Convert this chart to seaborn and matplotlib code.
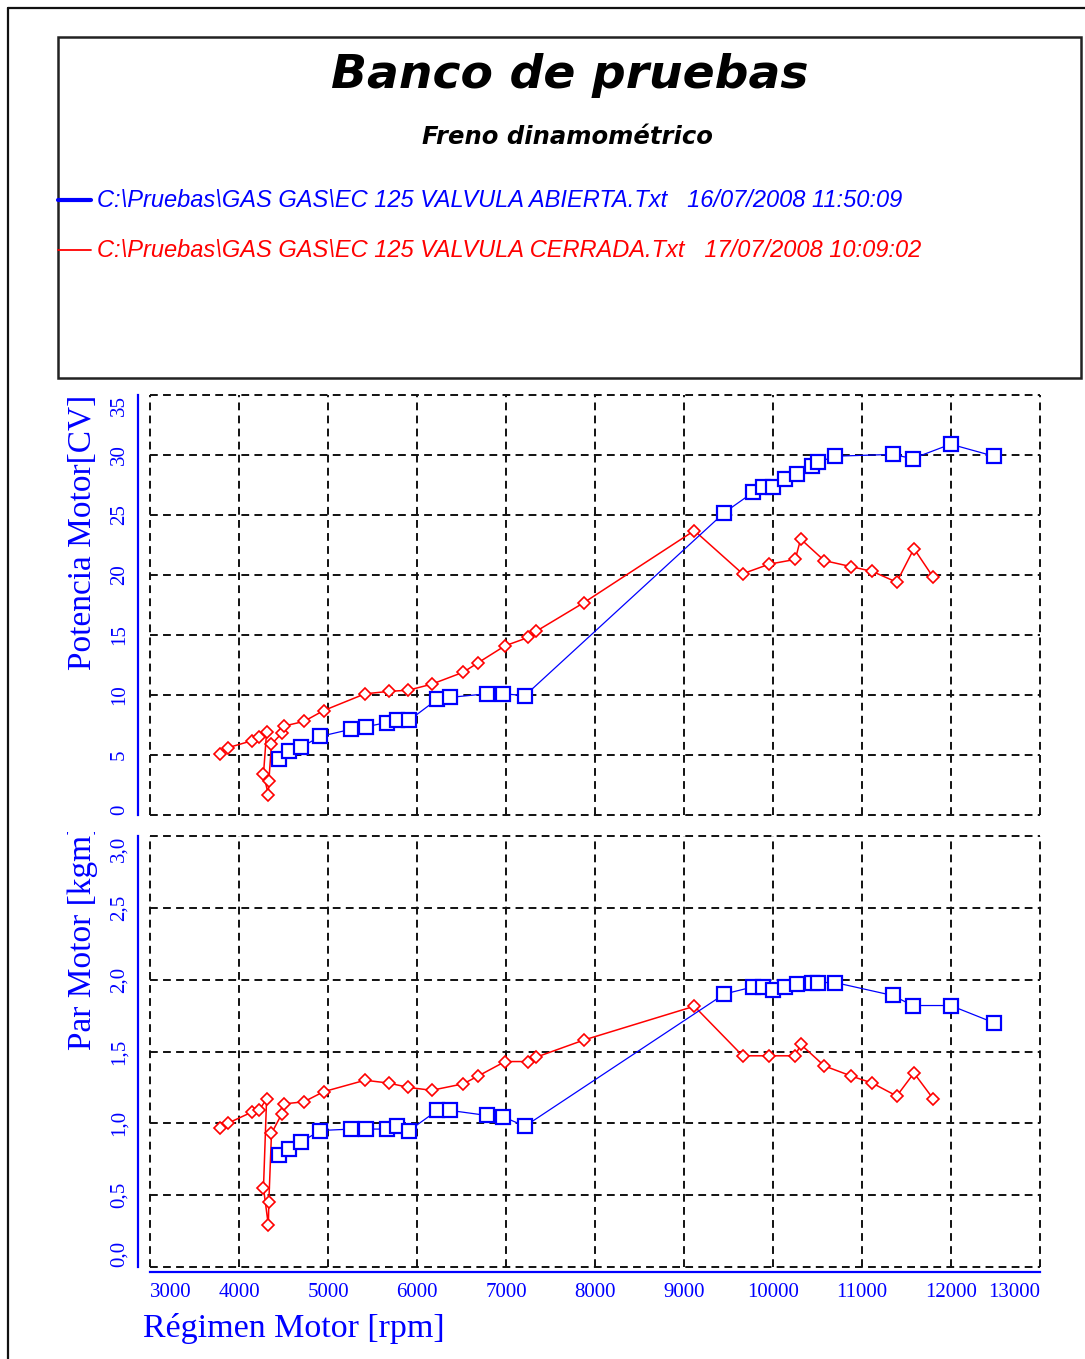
import matplotlib
matplotlib.use("Agg")
import matplotlib.pyplot as plt
import seaborn as sns
from matplotlib.lines import Line2D
from matplotlib.patches import Rectangle
from matplotlib.transforms import Bbox

# ---- test data: open throttle valve (abierta) ----
rpm_abierta = [4449, 4565, 4697, 4914, 5262, 5423, 5659, 5771, 5913, 6228, 6371,
               6782, 6969, 7213, 9453, 9778, 9890, 10003, 10135, 10266, 10434,
               10509, 10697, 11345, 11569, 11996, 12483]
potencia_abierta = [4.7, 5.3, 5.65, 6.55, 7.15, 7.35, 7.7, 7.9, 7.9, 9.65, 9.8,
                    10.1, 10.1, 9.95, 25.2, 26.9, 27.3, 27.3, 28.0, 28.4, 29.1,
                    29.4, 29.9, 30.05, 29.7, 30.9, 29.9]
par_abierta = [0.78, 0.82, 0.87, 0.95, 0.96, 0.96, 0.96, 0.98, 0.95, 1.09, 1.09,
               1.055, 1.045, 0.98, 1.90, 1.95, 1.95, 1.93, 1.95, 1.97, 1.98,
               1.98, 1.98, 1.89, 1.82, 1.82, 1.70]

# ---- test data: closed throttle valve (cerrada) ----
rpm_cerrada = [3787, 3873, 4150, 4230, 4310, 4275, 4330, 4335, 4365, 4480, 4500,
               4730, 4950, 5416, 5685, 5902, 6165, 6520, 6689, 6989, 7251, 7337,
               7876, 9116, 9659, 9955, 10250, 10311, 10576, 10876, 11116, 11390,
               11584, 11801]
potencia_cerrada = [5.1, 5.6, 6.2, 6.5, 6.9, 3.4, 1.7, 2.8, 5.9, 6.8, 7.4,
                    7.8, 8.7, 10.1, 10.3, 10.4, 10.9, 11.9, 12.7, 14.1, 14.8, 15.3,
                    17.7, 23.7, 20.1, 20.9, 21.3, 23.0, 21.2, 20.7, 20.3, 19.4,
                    22.2, 19.8]
par_cerrada = [0.97, 1.00, 1.08, 1.095, 1.17, 0.55, 0.29, 0.45, 0.93, 1.065, 1.135,
               1.15, 1.22, 1.30, 1.28, 1.25, 1.23, 1.275, 1.33, 1.43, 1.43, 1.46,
               1.58, 1.815, 1.47, 1.47, 1.47, 1.55, 1.40, 1.33, 1.28, 1.19,
               1.35, 1.17]

# ---- axes ticks and labels ----
x_ticks = [3000, 4000, 5000, 6000, 7000, 8000, 9000, 10000, 11000, 12000, 13000]
x_tick_labels = ["3000", "4000", "5000", "6000", "7000", "8000", "9000",
                 "10000", "11000", "12000", "13000"]
pot_ticks = [0, 5, 10, 15, 20, 25, 30, 35]
pot_tick_labels = ["0", "5", "10", "15", "20", "25", "30", "35"]
par_ticks = [0.0, 0.5, 1.0, 1.5, 2.0, 2.5, 3.0]
par_tick_labels = ["0,0", "0,5", "1,0", "1,5", "2,0", "2,5", "3,0"]

titulo = "Banco de pruebas"
subtitulo = "Freno dinamométrico"
leyenda = [r"C:\Pruebas\GAS GAS\EC 125 VALVULA ABIERTA.Txt   16/07/2008 11:50:09",
           r"C:\Pruebas\GAS GAS\EC 125 VALVULA CERRADA.Txt   17/07/2008 10:09:02"]
x_label = "Régimen Motor [rpm]"
pot_label = "Potencia Motor[CV]"
par_label = "Par Motor [kgm]"

AZUL = "#0000ff"
ROJO = "#ff0000"

sns.set_style("white")
plt.rcParams["font.family"] = ["Liberation Serif", "DejaVu Serif"]
plt.rcParams["lines.scale_dashes"] = False
plt.rcParams["text.color"] = "black"

W, H = 1085, 1359
fig = plt.figure(figsize=(W / 100, H / 100), dpi=100)


def fx(px):
    return px / W


def fy(py):
    return 1 - py / H


# outer page frame
fig.add_artist(Line2D([fx(8), fx(8)], [0, fy(8)], color="#111111", lw=1.6,
                      transform=fig.transFigure))
fig.add_artist(Line2D([fx(8), 1], [fy(8), fy(8)], color="#111111", lw=1.6,
                      transform=fig.transFigure))

# header box with title and series legend
fig.add_artist(Rectangle((fx(58), fy(378)), fx(1081) - fx(58), fy(37) - fy(378),
                         fill=False, ec="#222222", lw=1.8, transform=fig.transFigure))
fig.text(fx(570), fy(88), titulo, ha="center", va="baseline", color="black",
         family="DejaVu Sans", weight="bold", style="italic", fontsize=34)
fig.text(fx(567), fy(144), subtitulo, ha="center", va="baseline", color="black",
         family="DejaVu Sans", weight="bold", style="italic", fontsize=17.5)
for texto, color, lw, ypx in [(leyenda[0], AZUL, 3.0, 200), (leyenda[1], ROJO, 1.3, 250)]:
    fig.add_artist(Line2D([fx(58), fx(91)], [fy(ypx), fy(ypx)], color=color, lw=lw,
                          transform=fig.transFigure))
    fig.text(fx(97), fy(ypx + 7), texto, ha="left", va="baseline", color=color,
             family="Liberation Sans", style="italic", fontsize=17)

ax_pot = fig.add_axes([fx(150), fy(815), fx(1040) - fx(150), fy(395) - fy(815)])
ax_par = fig.add_axes([fx(150), fy(1267), fx(1040) - fx(150), fy(836) - fy(1267)])

series = [
    (rpm_cerrada, potencia_cerrada, par_cerrada, ROJO, "D", 6.2, 1.2, 1.1),
    (rpm_abierta, potencia_abierta, par_abierta, AZUL, "s", 9.6, 1.6, 0.9),
]
for ax, col in [(ax_pot, 1), (ax_par, 2)]:
    for s in series:
        sns.lineplot(x=s[0], y=s[col], ax=ax, sort=False, estimator=None,
                     color=s[3], linewidth=s[7], marker=s[4], markersize=s[5],
                     markerfacecolor="white", markeredgecolor=s[3],
                     markeredgewidth=s[6], clip_on=False, zorder=3)


def end_aligned_yticks(ax, ticks, labels):
    ax.set_yticks(ticks)
    ax.set_yticklabels(labels)
    tl = ax.get_yticklabels()
    for lbl in tl:
        lbl.set_va("center")
    tl[0].set_va("bottom")
    tl[-1].set_va("top")


for ax in (ax_pot, ax_par):
    ax.set_xlim(3000, 13000)
    ax.set_xticks(x_ticks)
    ax.set_facecolor("white")
    ax.grid(True, color="#111111", linestyle=(0, (5.6, 3.8)), linewidth=1.4,
            clip_on=False)
    ax.set_axisbelow(True)
    for side in ("top", "right", "bottom"):
        ax.spines[side].set_visible(False)
    ax.spines["left"].set_color(AZUL)
    ax.spines["left"].set_linewidth(1.6)
    ax.spines["left"].set_position(("outward", 8.6))
    ax.tick_params(axis="y", direction="out", length=3.6, width=1.1, color=AZUL,
                   labelcolor=AZUL, labelsize=15, pad=3, rotation=90)

ax_pot.set_ylim(0, 35)
end_aligned_yticks(ax_pot, pot_ticks, pot_tick_labels)
ax_pot.tick_params(axis="x", length=0, labelbottom=False)
ax_pot.set_xlabel("")
ax_pot.set_ylabel(pot_label, loc="top", color=AZUL, fontsize=24)
ax_pot.yaxis.set_label_coords(-0.058, 1.0)

ax_par.set_ylim(0, 3.0)
end_aligned_yticks(ax_par, par_ticks, par_tick_labels)
ax_par.spines["bottom"].set_visible(True)
ax_par.spines["bottom"].set_color(AZUL)
ax_par.spines["bottom"].set_linewidth(1.6)
ax_par.spines["bottom"].set_position(("outward", 3.6))
ax_par.set_xticklabels(x_tick_labels)
ax_par.tick_params(axis="x", direction="out", length=3.6, width=1.1, color=AZUL,
                   labelcolor=AZUL, labelsize=15, pad=4)
xtl = ax_par.get_xticklabels()
xtl[0].set_ha("left")
xtl[-1].set_ha("right")
ax_par.set_xlabel(x_label, loc="left", color=AZUL, fontsize=24.5)
ax_par.xaxis.set_label_coords((143 - 150) / 890, -(1313 - 1267) / 431)
ax_par.set_ylabel(par_label, loc="bottom", color=AZUL, fontsize=24)
ax_par.yaxis.set_label_coords(-0.058, (1267 - 1050) / 431)
# the torque caption is cut off where the plot area begins
ax_par.yaxis.label.set_clip_box(Bbox([[0, 0], [W, fy(832) * H]]))
ax_par.yaxis.label.set_clip_on(True)

fig.savefig("out.png", dpi=100, facecolor="white")
